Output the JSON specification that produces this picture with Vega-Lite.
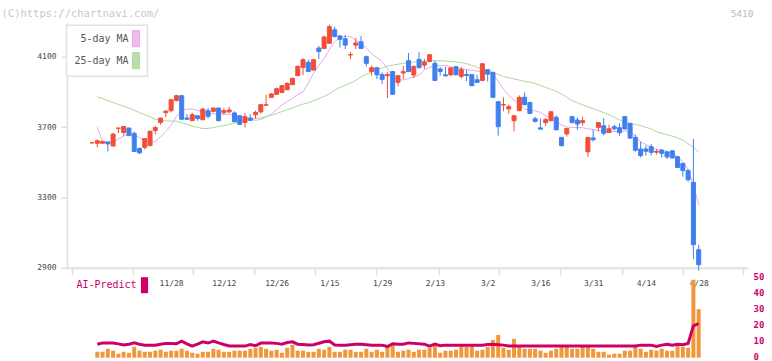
{
  "$schema": "https://vega.github.io/schema/vega-lite/v6.json",
  "background": "white",
  "padding": {"left": 1, "top": 7.7, "right": 0, "bottom": 0},
  "autosize": {"type": "pad"},
  "config": {
    "view": {"stroke": null},
    "font": "DejaVu Sans Mono",
    "axis": {"labelFont": "DejaVu Sans Mono", "titleFont": "DejaVu Sans Mono", "grid": false},
    "legend": {"labelFont": "DejaVu Sans Mono"}
  },
  "datasets": {
    "d": [
      {"i":0,"o":3610,"h":3614,"l":3607,"c":3611,"v":null,"a":null,"m5":null,"m25":null},
      {"i":1,"o":3607,"h":3630,"l":3584,"c":3622,"v":3.7,"a":8.5,"m5":3699,"m25":3872},
      {"i":2,"o":3608,"h":3622,"l":3605,"c":3618,"v":3.7,"a":9.3,"m5":3615,"m25":3862},
      {"i":3,"o":3615,"h":3616,"l":3561,"c":3604,"v":5.6,"a":9.3,"m5":3613,"m25":3850},
      {"i":4,"o":3592,"h":3668,"l":3590,"c":3660,"v":4.4,"a":9.3,"m5":3616,"m25":3840},
      {"i":5,"o":3693,"h":3695,"l":3666,"c":3694,"v":2.5,"a":8.7,"m5":3632,"m25":3828},
      {"i":6,"o":3669,"h":3707,"l":3651,"c":3703,"v":3.7,"a":8.0,"m5":3648,"m25":3818},
      {"i":7,"o":3694,"h":3696,"l":3649,"c":3651,"v":3.1,"a":8.5,"m5":3660,"m25":3808},
      {"i":8,"o":3664,"h":3673,"l":3558,"c":3561,"v":6.8,"a":9.3,"m5":3656,"m25":3795},
      {"i":9,"o":3578,"h":3584,"l":3546,"c":3553,"v":4.4,"a":8.5,"m5":3640,"m25":3782},
      {"i":10,"o":3584,"h":3638,"l":3573,"c":3634,"v":3.7,"a":7.9,"m5":3622,"m25":3770},
      {"i":11,"o":3594,"h":3678,"l":3592,"c":3676,"v":3.7,"a":7.9,"m5":3613,"m25":3757},
      {"i":12,"o":3680,"h":3707,"l":3660,"c":3697,"v":4.4,"a":7.9,"m5":3618,"m25":3745},
      {"i":13,"o":3726,"h":3752,"l":3713,"c":3751,"v":5.0,"a":8.5,"m5":3645,"m25":3736},
      {"i":14,"o":3781,"h":3792,"l":3755,"c":3791,"v":3.7,"a":9.0,"m5":3675,"m25":3735},
      {"i":15,"o":3793,"h":3861,"l":3783,"c":3855,"v":4.4,"a":9.0,"m5":3712,"m25":3734},
      {"i":16,"o":3850,"h":3884,"l":3846,"c":3878,"v":4.4,"a":8.8,"m5":3760,"m25":3733},
      {"i":17,"o":3878,"h":3884,"l":3744,"c":3744,"v":5.6,"a":10.4,"m5":3795,"m25":3725},
      {"i":18,"o":3751,"h":3773,"l":3743,"c":3744,"v":4.4,"a":8.7,"m5":3802,"m25":3715},
      {"i":19,"o":3736,"h":3781,"l":3734,"c":3770,"v":3.1,"a":7.2,"m5":3803,"m25":3705},
      {"i":20,"o":3764,"h":3766,"l":3736,"c":3749,"v":2.5,"a":8.5,"m5":3794,"m25":3698},
      {"i":21,"o":3741,"h":3808,"l":3740,"c":3802,"v":3.7,"a":10.0,"m5":3785,"m25":3691},
      {"i":22,"o":3793,"h":3808,"l":3749,"c":3761,"v":3.7,"a":9.2,"m5":3778,"m25":3692},
      {"i":23,"o":3789,"h":3811,"l":3783,"c":3808,"v":5.6,"a":10.4,"m5":3775,"m25":3697},
      {"i":24,"o":3808,"h":3810,"l":3735,"c":3736,"v":5.0,"a":9.3,"m5":3774,"m25":3703},
      {"i":25,"o":3783,"h":3808,"l":3770,"c":3793,"v":3.7,"a":8.3,"m5":3774,"m25":3708},
      {"i":26,"o":3786,"h":3816,"l":3778,"c":3797,"v":3.7,"a":7.4,"m5":3772,"m25":3715},
      {"i":27,"o":3780,"h":3789,"l":3729,"c":3730,"v":4.4,"a":7.3,"m5":3765,"m25":3722},
      {"i":28,"o":3764,"h":3766,"l":3713,"c":3715,"v":4.4,"a":7.3,"m5":3760,"m25":3730},
      {"i":29,"o":3726,"h":3780,"l":3698,"c":3759,"v":4.4,"a":7.3,"m5":3754,"m25":3738},
      {"i":30,"o":3751,"h":3773,"l":3736,"c":3738,"v":5.6,"a":8.3,"m5":3745,"m25":3744},
      {"i":31,"o":3770,"h":3793,"l":3746,"c":3783,"v":6.2,"a":7.5,"m5":3738,"m25":3748},
      {"i":32,"o":3786,"h":3830,"l":3778,"c":3827,"v":6.8,"a":9.2,"m5":3743,"m25":3752},
      {"i":33,"o":3824,"h":3884,"l":3822,"c":3827,"v":5.6,"a":9.3,"m5":3758,"m25":3760},
      {"i":34,"o":3869,"h":3893,"l":3865,"c":3888,"v":4.4,"a":9.3,"m5":3774,"m25":3768},
      {"i":35,"o":3886,"h":3925,"l":3884,"c":3918,"v":5.0,"a":9.0,"m5":3800,"m25":3777},
      {"i":36,"o":3897,"h":3940,"l":3895,"c":3935,"v":3.1,"a":8.5,"m5":3825,"m25":3788},
      {"i":37,"o":3912,"h":3955,"l":3910,"c":3948,"v":6.2,"a":9.5,"m5":3845,"m25":3798},
      {"i":38,"o":3941,"h":3980,"l":3938,"c":3977,"v":8.1,"a":10.0,"m5":3862,"m25":3808},
      {"i":39,"o":3992,"h":4050,"l":3990,"c":4045,"v":4.4,"a":8.5,"m5":3885,"m25":3820},
      {"i":40,"o":4039,"h":4091,"l":3995,"c":4083,"v":4.4,"a":8.3,"m5":3900,"m25":3830},
      {"i":41,"o":4068,"h":4083,"l":4014,"c":4016,"v":3.7,"a":8.0,"m5":3950,"m25":3838},
      {"i":42,"o":4024,"h":4086,"l":4022,"c":4083,"v":3.7,"a":8.2,"m5":4005,"m25":3850},
      {"i":43,"o":4149,"h":4162,"l":4087,"c":4130,"v":5.6,"a":9.1,"m5":4050,"m25":3862},
      {"i":44,"o":4147,"h":4219,"l":4143,"c":4212,"v":5.0,"a":10.0,"m5":4090,"m25":3874},
      {"i":45,"o":4176,"h":4282,"l":4174,"c":4271,"v":6.8,"a":10.4,"m5":4140,"m25":3888},
      {"i":46,"o":4253,"h":4270,"l":4210,"c":4215,"v":3.7,"a":8.0,"m5":4185,"m25":3910},
      {"i":47,"o":4218,"h":4224,"l":4152,"c":4199,"v":3.7,"a":7.9,"m5":4208,"m25":3925},
      {"i":48,"o":4202,"h":4224,"l":4143,"c":4166,"v":5.0,"a":7.9,"m5":4215,"m25":3937},
      {"i":49,"o":4110,"h":4128,"l":4087,"c":4112,"v":5.0,"a":8.2,"m5":4213,"m25":3950},
      {"i":50,"o":4166,"h":4206,"l":4144,"c":4178,"v":3.7,"a":8.5,"m5":4195,"m25":3965},
      {"i":51,"o":4185,"h":4218,"l":4144,"c":4147,"v":3.7,"a":8.5,"m5":4175,"m25":3985},
      {"i":52,"o":4100,"h":4106,"l":4045,"c":4062,"v":5.6,"a":8.2,"m5":4150,"m25":4000},
      {"i":53,"o":4016,"h":4049,"l":3992,"c":4037,"v":3.7,"a":7.9,"m5":4118,"m25":4012},
      {"i":54,"o":4037,"h":4040,"l":3973,"c":3997,"v":5.0,"a":7.9,"m5":4095,"m25":4028},
      {"i":55,"o":3998,"h":4011,"l":3945,"c":3971,"v":3.7,"a":7.9,"m5":4072,"m25":4035},
      {"i":56,"o":3992,"h":4011,"l":3865,"c":3998,"v":6.8,"a":7.0,"m5":4030,"m25":4047},
      {"i":57,"o":4015,"h":4018,"l":3884,"c":3886,"v":8.1,"a":8.8,"m5":3990,"m25":4052},
      {"i":58,"o":3954,"h":3994,"l":3931,"c":3992,"v":3.7,"a":8.5,"m5":3970,"m25":4057},
      {"i":59,"o":4007,"h":4049,"l":3973,"c":4015,"v":4.4,"a":8.5,"m5":3968,"m25":4062},
      {"i":60,"o":4077,"h":4121,"l":4013,"c":4015,"v":5.0,"a":9.3,"m5":3975,"m25":4066},
      {"i":61,"o":3996,"h":4049,"l":3979,"c":4045,"v":3.7,"a":9.0,"m5":3985,"m25":4070},
      {"i":62,"o":4085,"h":4125,"l":4030,"c":4039,"v":5.0,"a":8.7,"m5":3995,"m25":4073},
      {"i":63,"o":4052,"h":4088,"l":4030,"c":4070,"v":5.0,"a":8.5,"m5":4025,"m25":4074},
      {"i":64,"o":4073,"h":4116,"l":4068,"c":4111,"v":6.2,"a":7.3,"m5":4040,"m25":4076},
      {"i":65,"o":4062,"h":4078,"l":3963,"c":3965,"v":7.5,"a":8.5,"m5":4050,"m25":4077},
      {"i":66,"o":4030,"h":4042,"l":3992,"c":4016,"v":3.1,"a":7.5,"m5":4050,"m25":4077},
      {"i":67,"o":3997,"h":4042,"l":3988,"c":3991,"v":4.4,"a":7.9,"m5":4049,"m25":4075},
      {"i":68,"o":3997,"h":4042,"l":3990,"c":4036,"v":4.4,"a":7.9,"m5":4042,"m25":4073},
      {"i":69,"o":4043,"h":4045,"l":3995,"c":3997,"v":5.0,"a":7.9,"m5":4038,"m25":4070},
      {"i":70,"o":3988,"h":4042,"l":3977,"c":4026,"v":7.5,"a":7.9,"m5":4032,"m25":4067},
      {"i":71,"o":3999,"h":4026,"l":3961,"c":3993,"v":6.8,"a":7.9,"m5":4027,"m25":4060},
      {"i":72,"o":3998,"h":4000,"l":3933,"c":3935,"v":7.5,"a":7.9,"m5":4022,"m25":4050},
      {"i":73,"o":3969,"h":3997,"l":3952,"c":3954,"v":4.4,"a":7.9,"m5":4018,"m25":4040},
      {"i":74,"o":3965,"h":4062,"l":3960,"c":4060,"v":5.0,"a":7.9,"m5":4014,"m25":4030},
      {"i":75,"o":4026,"h":4028,"l":3958,"c":4001,"v":6.8,"a":8.3,"m5":4011,"m25":4020},
      {"i":76,"o":4011,"h":4013,"l":3867,"c":3869,"v":11.2,"a":8.5,"m5":4002,"m25":4011},
      {"i":77,"o":3844,"h":3846,"l":3651,"c":3702,"v":14.3,"a":8.2,"m5":3960,"m25":4000},
      {"i":78,"o":3825,"h":3869,"l":3789,"c":3828,"v":6.2,"a":7.9,"m5":3915,"m25":3988},
      {"i":79,"o":3803,"h":3827,"l":3776,"c":3816,"v":5.0,"a":7.3,"m5":3880,"m25":3980},
      {"i":80,"o":3736,"h":3766,"l":3675,"c":3764,"v":11.8,"a":7.3,"m5":3852,"m25":3973},
      {"i":81,"o":3793,"h":3880,"l":3790,"c":3869,"v":6.8,"a":7.3,"m5":3830,"m25":3967},
      {"i":82,"o":3869,"h":3897,"l":3825,"c":3827,"v":5.6,"a":7.3,"m5":3802,"m25":3960},
      {"i":83,"o":3840,"h":3842,"l":3775,"c":3777,"v":5.6,"a":7.3,"m5":3795,"m25":3955},
      {"i":84,"o":3747,"h":3758,"l":3725,"c":3732,"v":5.6,"a":7.3,"m5":3792,"m25":3948},
      {"i":85,"o":3695,"h":3749,"l":3686,"c":3688,"v":4.4,"a":7.3,"m5":3783,"m25":3937},
      {"i":86,"o":3725,"h":3751,"l":3707,"c":3742,"v":3.1,"a":7.3,"m5":3765,"m25":3925},
      {"i":87,"o":3736,"h":3790,"l":3734,"c":3787,"v":4.4,"a":7.3,"m5":3750,"m25":3915},
      {"i":88,"o":3755,"h":3766,"l":3682,"c":3684,"v":5.6,"a":7.3,"m5":3728,"m25":3902},
      {"i":89,"o":3641,"h":3643,"l":3590,"c":3594,"v":6.8,"a":7.3,"m5":3712,"m25":3888},
      {"i":90,"o":3661,"h":3694,"l":3645,"c":3692,"v":6.8,"a":7.3,"m5":3700,"m25":3870},
      {"i":91,"o":3759,"h":3762,"l":3723,"c":3725,"v":5.6,"a":7.3,"m5":3698,"m25":3850},
      {"i":92,"o":3740,"h":3755,"l":3684,"c":3717,"v":5.6,"a":7.3,"m5":3698,"m25":3838},
      {"i":93,"o":3725,"h":3759,"l":3708,"c":3736,"v":6.8,"a":7.3,"m5":3696,"m25":3826},
      {"i":94,"o":3559,"h":3645,"l":3531,"c":3641,"v":7.5,"a":7.3,"m5":3690,"m25":3815},
      {"i":95,"o":3638,"h":3685,"l":3617,"c":3628,"v":5.6,"a":7.3,"m5":3685,"m25":3804},
      {"i":96,"o":3698,"h":3727,"l":3675,"c":3725,"v":3.7,"a":7.3,"m5":3680,"m25":3793},
      {"i":97,"o":3707,"h":3751,"l":3652,"c":3664,"v":3.7,"a":7.3,"m5":3676,"m25":3782},
      {"i":98,"o":3669,"h":3713,"l":3667,"c":3690,"v":1.9,"a":7.3,"m5":3672,"m25":3770},
      {"i":99,"o":3702,"h":3713,"l":3679,"c":3690,"v":2.5,"a":7.3,"m5":3675,"m25":3755},
      {"i":100,"o":3696,"h":3721,"l":3651,"c":3668,"v":2.5,"a":7.3,"m5":3672,"m25":3740},
      {"i":101,"o":3759,"h":3762,"l":3687,"c":3689,"v":4.4,"a":7.3,"m5":3678,"m25":3733},
      {"i":102,"o":3721,"h":3723,"l":3634,"c":3637,"v":4.4,"a":7.3,"m5":3670,"m25":3718},
      {"i":103,"o":3641,"h":3657,"l":3560,"c":3568,"v":6.8,"a":7.3,"m5":3650,"m25":3715},
      {"i":104,"o":3575,"h":3617,"l":3527,"c":3537,"v":5.6,"a":7.9,"m5":3615,"m25":3708},
      {"i":105,"o":3575,"h":3594,"l":3537,"c":3562,"v":3.7,"a":7.9,"m5":3600,"m25":3698},
      {"i":106,"o":3588,"h":3603,"l":3537,"c":3556,"v":5.0,"a":7.9,"m5":3585,"m25":3690},
      {"i":107,"o":3557,"h":3575,"l":3543,"c":3562,"v":4.4,"a":7.0,"m5":3575,"m25":3674},
      {"i":108,"o":3569,"h":3575,"l":3527,"c":3550,"v":5.6,"a":7.9,"m5":3567,"m25":3664},
      {"i":109,"o":3558,"h":3566,"l":3518,"c":3530,"v":4.4,"a":8.5,"m5":3560,"m25":3656},
      {"i":110,"o":3565,"h":3567,"l":3522,"c":3524,"v":4.4,"a":7.9,"m5":3552,"m25":3648},
      {"i":111,"o":3531,"h":3534,"l":3468,"c":3470,"v":7.5,"a":8.5,"m5":3530,"m25":3638},
      {"i":112,"o":3493,"h":3496,"l":3418,"c":3452,"v":6.8,"a":8.2,"m5":3503,"m25":3625},
      {"i":113,"o":3452,"h":3461,"l":3389,"c":3400,"v":6.2,"a":9.0,"m5":3458,"m25":3605},
      {"i":114,"o":3385,"h":3632,"l":2949,"c":3031,"v":49,"a":20.0,"m5":3370,"m25":3585},
      {"i":115,"o":3002,"h":3031,"l":2883,"c":2917,"v":30.5,"a":21.5,"m5":3257,"m25":3556}
    ]
  },
  "bounds": "flush",
  "spacing": 10.5,
  "resolve": {"scale": {"x": "independent", "y": "independent", "color": "independent"}, "legend": {"color": "independent"}},
  "vconcat": [
    {
      "width": 681,
      "height": 245,
      "data": {"name": "d"},
      "resolve": {"axis": {"x": "independent"}},
      "layer": [
        {
          "transform": [{"fold": ["m5", "m25"], "as": ["k", "val"]}],
          "mark": {"type": "line", "strokeWidth": 1},
          "encoding": {
            "x": {"field": "i", "type": "quantitative", "scale": {"domain": [-3.79, 123.4], "nice": false, "zero": false}, "axis": null},
            "y": {
              "field": "val", "type": "quantitative",
              "scale": {"domain": [2900, 4293.3], "nice": false, "zero": false},
              "axis": {
                "values": [2900, 3300, 3700, 4100], "format": "d",
                "domainColor": "#e0e0e0", "domainWidth": 1.5,
                "tickColor": "#e0e0e0", "tickSize": 6, "tickWidth": 1.5,
                "labelColor": "#444", "labelFontSize": 8, "labelPadding": 5,
                "title": "(C)https://chartnavi.com/",
                "titleAngle": 0, "titleAlign": "left", "titleBaseline": "top",
                "titleX": -66, "titleY": -14.3,
                "titleColor": "#c8c8c8", "titleFontSize": 10.5, "titleFontWeight": "normal"
              }
            },
            "color": {
              "field": "k", "type": "nominal",
              "scale": {"domain": ["m5", "m25"], "range": ["#e4aaec", "#abd99c"]},
              "legend": {
                "title": null, "orient": "none", "legendX": -0.5, "legendY": 2.5,
                "direction": "vertical",
                "padding": 5, "strokeColor": "#e2e2e2", "fillColor": "white",
                "symbolType": "M-0.45,-1H0.45V1H-0.45Z", "symbolSize": 256, "symbolStrokeWidth": 1,
                "symbolOffset": 56, "labelOffset": -16, "labelAlign": "right",
                "labelFontSize": 10, "labelColor": "#555", "rowPadding": 1,
                "labelExpr": "datum.value == 'm5' ? '5-day MA' : '25-day MA'",
                "encode": {
                  "symbols": {"update": {
                    "fill": {"signal": "datum.value == 'm5' ? '#eebbee' : '#bbddaa'"},
                    "stroke": {"value": "#666"},
                    "opacity": {"value": 1}
                  }},
                  "legend": {"update": {"strokeWidth": {"value": 1.5}}}
                }
              }
            }
          }
        },
        {
          "mark": {"type": "rule", "strokeWidth": 1},
          "encoding": {
            "x": {
              "field": "i", "type": "quantitative",
              "scale": {"domain": [-3.79, 123.4], "nice": false, "zero": false},
              "axis": {
                "orient": "bottom",
                "values": [-3.79, 7.79, 19.18, 30.76, 42.34, 53.92, 65.69, 77.08, 88.66, 100.43, 112.0, 123.4],
                "labels": false, "ticks": true, "tickSize": 7, "tickColor": "#e0e0e0", "tickWidth": 1.5,
                "domain": true, "domainColor": "#e0e0e0", "domainWidth": 2, "title": null
              }
            },
            "y": {"field": "l", "type": "quantitative", "scale": {"domain": [2900, 4293.3], "nice": false, "zero": false}},
            "y2": {"field": "h"},
            "stroke": {"condition": {"test": "datum.c >= datum.o", "value": "#f04e3a"}, "value": "#3f7ff0"}
          }
        },
        {
          "mark": {"type": "bar", "width": 4, "strokeWidth": 1},
          "encoding": {
            "x": {
              "field": "i", "type": "quantitative",
              "scale": {"domain": [-3.79, 123.4], "nice": false, "zero": false},
              "axis": {
                "orient": "bottom",
                "values": [15, 25, 35, 45, 55, 65, 75, 85, 95, 105, 115],
                "labelExpr": "['11/28','12/12','12/26','1/15','1/29','2/13','3/2','3/16','3/31','4/14','4/28'][round((datum.value - 15) / 10)]",
                "ticks": false, "domain": false,
                "labelFontSize": 8, "labelColor": "#444", "labelPadding": 12, "title": null
              }
            },
            "y": {"field": "o", "type": "quantitative", "scale": {"domain": [2900, 4293.3], "nice": false, "zero": false}},
            "y2": {"field": "c"},
            "fill": {"condition": {"test": "datum.c >= datum.o", "value": "#f04e3a"}, "value": "#3f7ff0"},
            "stroke": {"condition": {"test": "datum.c >= datum.o", "value": "#f04e3a"}, "value": "#3f7ff0"}
          }
        }
      ]
    },
    {
      "width": 681,
      "height": 79.5,
      "data": {"name": "d"},
      "layer": [
        {
          "mark": {"type": "bar", "width": 4, "color": "#f0963c"},
          "encoding": {
            "x": {"field": "i", "type": "quantitative", "scale": {"domain": [-3.79, 123.4], "nice": false, "zero": false}, "axis": null},
            "y": {
              "field": "v", "type": "quantitative",
              "scale": {"domain": [0, 50], "nice": false},
              "axis": {
                "orient": "right", "values": [0, 10, 20, 30, 40, 50], "tickCount": 6,
                "domain": false, "ticks": false, "labelOverlap": false, "labelOffset": -1.5,
                "labelColor": "#cc0066", "labelFontSize": 9, "labelFontWeight": "bold", "labelPadding": 5,
                "title": "5410", "titleAngle": 0, "titleAlign": "right", "titleBaseline": "top",
                "titleX": 5, "titleY": -269.8,
                "titleColor": "#bbbbbb", "titleFontSize": 9.5, "titleFontWeight": "normal"
              }
            }
          }
        },
        {
          "mark": {"type": "line", "strokeWidth": 3},
          "encoding": {
            "x": {"field": "i", "type": "quantitative", "scale": {"domain": [-3.79, 123.4], "nice": false, "zero": false}, "axis": null},
            "y": {
              "field": "a", "type": "quantitative",
              "scale": {"domain": [0, 50], "nice": false},
              "axis": {
                "orient": "right", "values": [0, 10, 20, 30, 40, 50], "tickCount": 6,
                "domain": false, "ticks": false, "labelOverlap": false, "labelOffset": -1.5,
                "labelColor": "#cc0066", "labelFontSize": 9, "labelFontWeight": "bold", "labelPadding": 5,
                "title": "5410", "titleAngle": 0, "titleAlign": "right", "titleBaseline": "top",
                "titleX": 5, "titleY": -269.8,
                "titleColor": "#bbbbbb", "titleFontSize": 9.5, "titleFontWeight": "normal"
              }
            },
            "color": {
              "datum": "AI-Predict", "type": "nominal",
              "scale": {"range": ["#cc0066"]},
              "legend": {
                "title": null, "orient": "none", "legendX": 8, "legendY": -1, "padding": 0,
                "symbolType": "M-0.45,-1H0.45V1H-0.45Z", "symbolSize": 256, "symbolStrokeWidth": 0,
                "symbolOffset": 61.5, "labelOffset": -16, "labelAlign": "right",
                "labelFontSize": 10, "labelColor": "#cc0066",
                "encode": {"symbols": {"update": {
                  "fill": {"value": "#cc0066"},
                  "stroke": {"value": "#cc0066"},
                  "opacity": {"value": 1}
                }}}
              }
            }
          }
        }
      ]
    }
  ]
}
